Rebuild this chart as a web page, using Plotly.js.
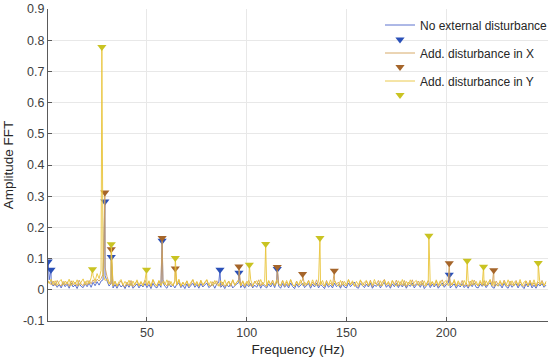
<!DOCTYPE html>
<html>
<head>
<meta charset="utf-8">
<script src="https://cdn.plot.ly/plotly-3.0.1.min.js"></script>
<style>html,body{margin:0;padding:0;background:#fff;}#chart{width:550px;height:362px;}</style>
</head>
<body>
<div id="chart"></div>
<script>
// Frequency grid (Hz), 1 Hz steps starting at 0
const gridStart = 0, gridStep = 1;

// Noise floor of each series on the grid (amplitude)
const noiseNone = [
.050,.032,.022,.012,.020,.008,.017,.006,.021,.010,
.018,.005,.022,.009,.016,.004,.020,.011,.007,.019,
.010,.022,.008,.024,.013,.026,.015,.028,.032,.045,
.026,.012,.020,.006,.017,.005,.019,.009,.015,.004,
.018,.008,.021,.005,.014,.019,.006,.016,.009,.020,
.007,.017,.004,.021,.010,.006,.019,.008,.023,.011,
.005,.020,.009,.016,.006,.018,.022,.007,.015,.004,
.019,.006,.013,.021,.008,.017,.005,.020,.009,.016,
.022,.007,.012,.018,.005,.019,.024,.008,.015,.004,
.017,.009,.020,.006,.014,.019,.023,.007,.016,.005,
.018,.010,.021,.006,.015,.008,.022,.005,.017,.011,
.006,.019,.009,.021,.007,.026,.012,.005,.020,.008,
.017,.006,.022,.010,.004,.019,.008,.016,.021,.007,
.012,.020,.005,.018,.009,.022,.006,.017,.011,.004,
.020,.008,.015,.006,.021,.010,.017,.005,.019,.009,
.006,.022,.010,.016,.025,.008,.005,.020,.012,.007,
.018,.009,.021,.005,.015,.011,.020,.006,.017,.023,
.008,.016,.005,.019,.010,.021,.007,.018,.009,.020,
.005,.017,.011,.022,.006,.016,.019,.008,.021,.004,
.012,.020,.007,.018,.009,.019,.005,.015,.022,.008,
.017,.021,.006,.012,.019,.005,.016,.009,.020,.007,
.015,.005,.019,.010,.022,.008,.006,.018,.011,.020,
.007,.016,.023,.009,.005,.019,.012,.017,.006,.021,
.010,.005,.019,.008,.016,.020,.006,.018,.011,.004,
.019,.009,.022,.006,.015,.005,.018,.012,.020,.008,
.015];

const noiseX = [
.032,.024,.016,.028,.013,.030,.018,.012,.027,.015,
.026,.011,.029,.016,.025,.012,.031,.018,.013,.027,
.015,.030,.019,.032,.022,.034,.028,.036,.050,.072,
.042,.024,.018,.012,.026,.011,.022,.029,.014,.010,
.025,.013,.030,.010,.021,.028,.012,.024,.016,.031,
.013,.026,.010,.032,.019,.011,.028,.015,.033,.020,
.012,.029,.017,.013,.027,.015,.031,.010,.023,.014,
.028,.010,.018,.032,.014,.024,.011,.030,.013,.022,
.031,.015,.011,.026,.018,.029,.013,.012,.025,.010,
.019,.028,.011,.032,.015,.023,.033,.012,.027,.010,
.022,.030,.013,.011,.028,.017,.032,.012,.024,.015,
.011,.028,.018,.031,.013,.025,.021,.014,.030,.011,
.025,.012,.032,.017,.010,.028,.014,.023,.031,.013,
.018,.030,.011,.025,.015,.032,.012,.028,.017,.010,
.030,.014,.022,.012,.031,.018,.025,.010,.028,.015,
.013,.032,.017,.025,.011,.015,.010,.030,.022,.013,
.028,.014,.031,.010,.023,.018,.030,.012,.025,.033,
.015,.023,.010,.029,.017,.031,.012,.026,.014,.030,
.010,.025,.017,.032,.013,.022,.028,.014,.031,.011,
.018,.030,.012,.025,.015,.029,.010,.023,.032,.014,
.024,.031,.013,.019,.028,.011,.023,.015,.030,.012,
.022,.010,.028,.015,.031,.018,.012,.025,.014,.030,
.012,.023,.032,.015,.010,.028,.017,.025,.013,.031,
.018,.011,.028,.014,.023,.030,.012,.026,.017,.010,
.028,.014,.031,.012,.023,.010,.025,.018,.030,.014,
.022];

const noiseY = [
.030,.020,.034,.016,.029,.014,.026,.033,.015,.028,
.018,.034,.013,.029,.017,.032,.014,.027,.035,.016,
.030,.019,.038,.045,.028,.052,.036,.062,.052,.030,
.034,.018,.031,.014,.028,.013,.026,.033,.015,.027,
.016,.031,.013,.028,.015,.032,.014,.027,.012,.030,
.015,.029,.012,.033,.017,.014,.030,.013,.027,.016,
.032,.014,.027,.013,.029,.016,.034,.012,.025,.015,
.029,.013,.024,.033,.014,.027,.012,.030,.016,.025,
.033,.014,.027,.013,.030,.017,.012,.029,.015,.032,
.013,.027,.016,.032,.014,.025,.030,.013,.029,.015,
.027,.014,.032,.013,.024,.029,.014,.033,.016,.027,
.013,.030,.015,.027,.014,.032,.017,.013,.029,.015,
.030,.014,.033,.016,.012,.027,.015,.032,.014,.025,
.015,.029,.013,.032,.017,.014,.027,.015,.030,.012,
.027,.015,.032,.013,.029,.017,.012,.030,.015,.027,
.014,.033,.016,.029,.012,.027,.015,.032,.013,.025,
.030,.012,.027,.015,.033,.017,.013,.029,.012,.032,
.015,.027,.013,.030,.017,.012,.029,.015,.033,.013,
.027,.015,.032,.012,.025,.030,.013,.027,.015,.029,
.012,.030,.016,.027,.013,.032,.015,.029,.012,.025,
.030,.013,.027,.015,.033,.012,.029,.016,.013,.030,
.016,.029,.012,.032,.015,.027,.013,.030,.016,.012,
.029,.015,.033,.013,.027,.016,.012,.030,.015,.027,
.013,.032,.016,.029,.012,.027,.015,.033,.013,.025,
.029,.012,.027,.016,.032,.013,.030,.015,.025,.012,
.027];

// Detected peaks (frequency Hz, amplitude)
const peakFreqNone = [0.5, 1.9, 28.9, 32.1, 57.6, 86.6, 96.1, 115.3, 201.5];
const peakAmpNone  = [0.091, 0.064, 0.283, 0.105, 0.157, 0.064, 0.055, 0.067, 0.048];

const peakFreqX = [28.9, 32.1, 57.6, 64.2, 96.1, 115.3, 128.0, 143.9, 201.5, 223.8];
const peakAmpX  = [0.312, 0.130, 0.166, 0.068, 0.075, 0.073, 0.051, 0.061, 0.085, 0.063];

const peakFreqY = [22.7, 27.4, 32.1, 49.8, 64.2, 101.3, 109.5, 136.7, 191.3, 210.5, 218.7, 246.1];
const peakAmpY  = [0.066, 0.778, 0.146, 0.064, 0.102, 0.080, 0.147, 0.166, 0.173, 0.093, 0.074, 0.086];

const seriesNames = ["No external disturbance", "Add. disturbance in X", "Add. disturbance in Y"];
const lineColors = ["#4a62c8", "#d2a058", "#e9c43a"];
const markerColors = ["#2a50b8", "#a5652a", "#c9c322"];

const yTickVals = [-0.1, 0, 0.1, 0.2, 0.3, 0.4, 0.5, 0.6, 0.7, 0.8, 0.9];
const yTickText = ["-0.1", "0", "0.1", "0.2", "0.3", "0.4", "0.5", "0.6", "0.7", "0.8", "0.9"];
const xTickVals = [50, 100, 150, 200];

function buildLine(noise, pf, pa) {
  const pts = noise.map((v, i) => [gridStart + i * gridStep, v]);
  pf.forEach((f, i) => pts.push([f, pa[i]]));
  pts.sort((a, b) => a[0] - b[0]);
  return {x: pts.map(p => p[0]), y: pts.map(p => p[1])};
}

const noises = [noiseNone, noiseX, noiseY];
const pfs = [peakFreqNone, peakFreqX, peakFreqY];
const pas = [peakAmpNone, peakAmpX, peakAmpY];

// legend rows (pixel centres from the top of the figure)
const legendRowPx = [25, 39.5, 53, 67, 81, 95];
const plotTop = 9, plotH = 312, plotL = 48, plotW = 500;
const legendIds = ["legend", "legend2", "legend3", "legend4", "legend5", "legend6"];

const traces = [];
for (let s = 0; s < 3; s++) {
  const L = buildLine(noises[s], pfs[s], pas[s]);
  traces.push({
    type: "scatter", mode: "lines", x: L.x, y: L.y, name: seriesNames[s],
    legend: legendIds[2 * s],
    line: {color: lineColors[s], width: 0.9}, hoverinfo: "skip"
  });
  traces.push({
    type: "scatter", mode: "markers", x: pfs[s], y: pas[s], name: " ",
    legend: legendIds[2 * s + 1],
    marker: {symbol: "triangle-down", size: 8, color: markerColors[s]}, hoverinfo: "skip"
  });
}

const fam = "Liberation Sans, Arial, sans-serif";
const axisCommon = {
  showline: true, linecolor: "#5a5a5a", linewidth: 1,
  ticks: "inside", ticklen: 4, tickcolor: "#5a5a5a",
  showgrid: true, gridcolor: "#e8e8e8", gridwidth: 1,
  zeroline: false, mirror: false,
  tickfont: {family: fam, size: 12.5, color: "#404040"}
};

const layout = {
  width: 550, height: 362,
  margin: {l: 48, r: 2, t: 9, b: 41, autoexpand: false},
  paper_bgcolor: "#ffffff", plot_bgcolor: "#ffffff",
  font: {family: fam, size: 12, color: "#262626"},
  showlegend: true,
  xaxis: Object.assign({}, axisCommon, {
    range: [0.4, 251], tickvals: xTickVals, automargin: false,
    title: {text: "Frequency (Hz)", font: {size: 13.5, color: "#262626"}, standoff: 5}
  }),
  yaxis: Object.assign({}, axisCommon, {
    range: [-0.1, 0.9], tickvals: yTickVals, ticktext: yTickText, automargin: false,
    title: {text: "Amplitude FFT", font: {size: 13.5, color: "#262626"}, standoff: 6}
  })
};
legendIds.forEach((id, k) => {
  layout[id] = {
    x: 0.664, y: 1 - (legendRowPx[k] - plotTop) / plotH,
    xanchor: "left", yanchor: "middle",
    bgcolor: "rgba(0,0,0,0)", borderwidth: 0, itemwidth: 30,
    font: {family: fam, size: 12, color: "#262626"}
  };
});

Plotly.newPlot("chart", traces, layout, {displayModeBar: false, staticPlot: true});
</script>
</body>
</html>
